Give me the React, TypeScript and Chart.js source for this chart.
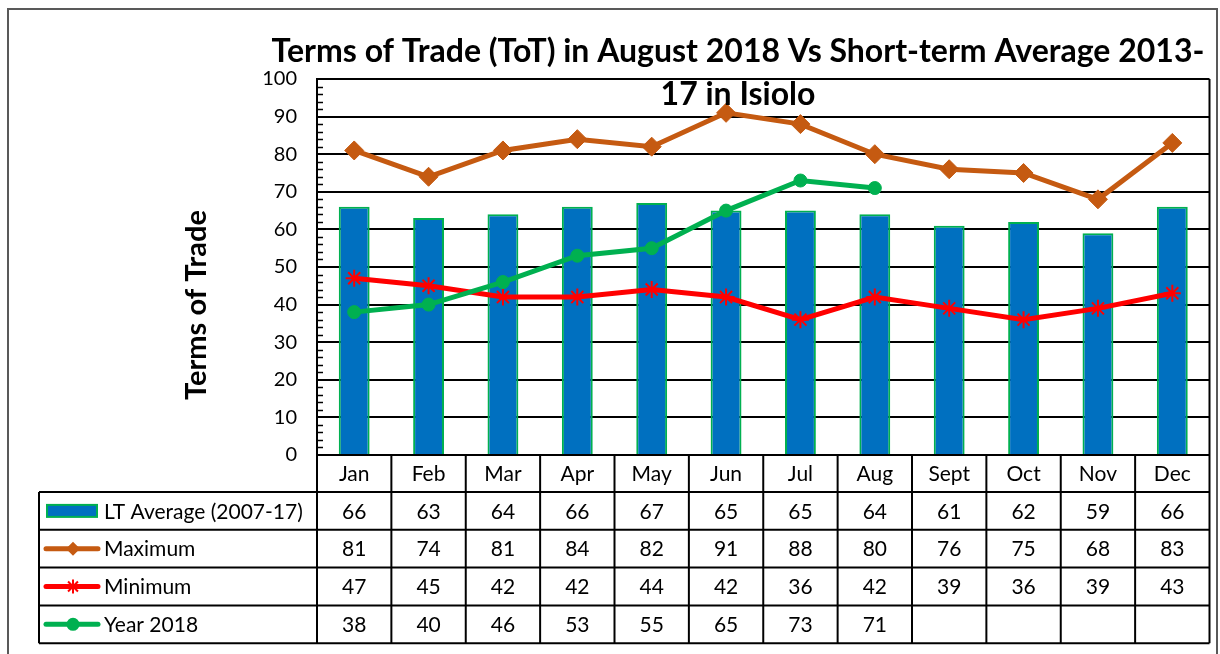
import React, { useEffect, useRef } from 'react';
import { Chart, registerables } from 'chart.js';

Chart.register(...registerables);

const months = ['Jan', 'Feb', 'Mar', 'Apr', 'May', 'Jun', 'Jul', 'Aug', 'Sept', 'Oct', 'Nov', 'Dec'];
const ltAverage = [66, 63, 64, 66, 67, 65, 65, 64, 61, 62, 59, 66];
const maximum = [81, 74, 81, 84, 82, 91, 88, 80, 76, 75, 68, 83];
const minimum = [47, 45, 42, 42, 44, 42, 36, 42, 39, 36, 39, 43];
const year2018: (number | null)[] = [38, 40, 46, 53, 55, 65, 73, 71, null, null, null, null];
const seriesNames = ['LT Average (2007-17)', 'Maximum', 'Minimum', 'Year 2018'];
const titleLines = ['Terms of Trade (ToT) in August 2018 Vs Short-term Average 2013-', '17 in Isiolo'];
const yAxisTitle = 'Terms of Trade';

const FONT = 'Lato, "Open Sans", "DejaVu Sans", sans-serif';
const BLUE = '#0070C0';
const GREEN = '#00B050';
const ORANGE = '#C55A11';
const RED = '#FF0000';

const decorPlugin = {
  id: 'decor',
  afterDraw(chart: any) {
    const { ctx, chartArea: a, scales } = chart;
    const x = scales.x;
    const y = scales.y;
    ctx.save();

    // outer frame
    ctx.strokeStyle = '#595959';
    ctx.lineWidth = 2;
    ctx.strokeRect(8, 9, 1209, 720);

    // plot right border
    ctx.strokeStyle = '#000';
    ctx.lineWidth = 2;
    ctx.beginPath();
    ctx.moveTo(a.right, a.top);
    ctx.lineTo(a.right, a.bottom);
    ctx.stroke();

    // minor ticks
    ctx.lineWidth = 1.5;
    for (let v = 2; v < 100; v += 2) {
      if (v % 10 === 0) continue;
      const py = Math.round(y.getPixelForValue(v)) + 0.5;
      ctx.beginPath();
      ctx.moveTo(a.left, py);
      ctx.lineTo(a.left + 6, py);
      ctx.stroke();
    }

    // title
    ctx.fillStyle = '#000';
    ctx.font = `bold 32px ${FONT}`;
    ctx.textAlign = 'center';
    ctx.textBaseline = 'middle';
    ctx.fillText(titleLines[0], 738, 52, 935);
    ctx.fillText(titleLines[1], 738, 95);

    // y axis title
    ctx.save();
    ctx.translate(197, 305);
    ctx.rotate(-Math.PI / 2);
    ctx.font = `bold 29px ${FONT}`;
    ctx.fillText(yAxisTitle, 0, 0);
    ctx.restore();

    // data table
    const colW = x.getPixelForValue(1) - x.getPixelForValue(0);
    const tableLeft = 39;
    const headerTop = a.bottom;
    const headerBottom = a.bottom + 37;
    const rowH = 37.8;
    const tableBottom = headerBottom + rowH * 4;

    ctx.strokeStyle = '#000';
    ctx.lineWidth = 2;
    for (let i = 0; i <= months.length; i++) {
      const cx = i < months.length ? x.getPixelForValue(i) - colW / 2 : a.right;
      ctx.beginPath();
      ctx.moveTo(cx, headerTop);
      ctx.lineTo(cx, tableBottom);
      ctx.stroke();
    }
    ctx.beginPath();
    ctx.moveTo(tableLeft, headerBottom);
    ctx.lineTo(tableLeft, tableBottom);
    ctx.stroke();
    for (let r = 0; r <= 4; r++) {
      const ry = headerBottom + r * rowH;
      ctx.beginPath();
      ctx.moveTo(tableLeft, ry);
      ctx.lineTo(a.right, ry);
      ctx.stroke();
    }

    ctx.font = `21px ${FONT}`;
    ctx.textAlign = 'center';
    ctx.textBaseline = 'middle';
    months.forEach((m, i) => {
      ctx.fillText(m, x.getPixelForValue(i), (headerTop + headerBottom) / 2 + 1);
    });

    const rows = [ltAverage, maximum, minimum, year2018];
    rows.forEach((vals, r) => {
      const cy = headerBottom + r * rowH + rowH / 2 + 1;
      vals.forEach((v, i) => {
        if (v === null || v === undefined) return;
        ctx.fillText(String(v), x.getPixelForValue(i), cy);
      });
    });

    ctx.textAlign = 'left';
    rows.forEach((_, r) => {
      const cy = headerBottom + r * rowH + rowH / 2;
      if (r === 0) {
        ctx.fillStyle = BLUE;
        ctx.fillRect(47, cy - 6, 50, 12);
        ctx.strokeStyle = GREEN;
        ctx.lineWidth = 2;
        ctx.strokeRect(47, cy - 6, 50, 12);
      } else {
        const col = r === 1 ? ORANGE : r === 2 ? RED : GREEN;
        ctx.strokeStyle = col;
        ctx.lineWidth = 5;
        ctx.lineCap = 'round';
        ctx.beginPath();
        ctx.moveTo(46, cy);
        ctx.lineTo(98, cy);
        ctx.stroke();
        ctx.lineCap = 'butt';
        ctx.fillStyle = col;
        const mx = 73;
        if (r === 1) {
          ctx.beginPath();
          ctx.moveTo(mx, cy - 7);
          ctx.lineTo(mx + 7, cy);
          ctx.lineTo(mx, cy + 7);
          ctx.lineTo(mx - 7, cy);
          ctx.closePath();
          ctx.fill();
        } else if (r === 2) {
          ctx.lineWidth = 2;
          const s = 7;
          ctx.beginPath();
          ctx.moveTo(mx - s, cy); ctx.lineTo(mx + s, cy);
          ctx.moveTo(mx, cy - s); ctx.lineTo(mx, cy + s);
          const d = s * 0.7071;
          ctx.moveTo(mx - d, cy - d); ctx.lineTo(mx + d, cy + d);
          ctx.moveTo(mx - d, cy + d); ctx.lineTo(mx + d, cy - d);
          ctx.stroke();
        } else {
          ctx.beginPath();
          ctx.arc(mx, cy, 6.5, 0, Math.PI * 2);
          ctx.fill();
        }
      }
      ctx.fillStyle = '#000';
      ctx.font = `21px ${FONT}`;
      ctx.fillText(seriesNames[r], 104, cy + 1, 208);
    });

    ctx.restore();
  },
};

export default function App() {
  const ref = useRef<HTMLCanvasElement | null>(null);

  useEffect(() => {
    if (!ref.current) return;
    const chart = new Chart(ref.current, {
      type: 'bar',
      data: {
        labels: months,
        datasets: [
          {
            type: 'line',
            label: seriesNames[3],
            data: year2018,
            borderColor: GREEN,
            backgroundColor: GREEN,
            borderWidth: 5,
            pointStyle: 'circle',
            pointRadius: 6.5,
            pointBorderWidth: 1,
            pointBackgroundColor: GREEN,
            pointBorderColor: GREEN,
            order: 1,
          } as any,
          {
            type: 'line',
            label: seriesNames[2],
            data: minimum,
            borderColor: RED,
            backgroundColor: RED,
            borderWidth: 5,
            pointStyle: 'star',
            pointRadius: 8.5,
            pointBorderWidth: 2,
            pointBorderColor: RED,
            order: 2,
          } as any,
          {
            type: 'line',
            label: seriesNames[1],
            data: maximum,
            borderColor: ORANGE,
            backgroundColor: ORANGE,
            borderWidth: 5,
            pointStyle: 'rectRot',
            pointRadius: 9.5,
            pointBorderWidth: 1,
            pointBackgroundColor: ORANGE,
            pointBorderColor: ORANGE,
            order: 3,
          } as any,
          {
            type: 'bar',
            label: seriesNames[0],
            data: ltAverage,
            backgroundColor: BLUE,
            borderColor: GREEN,
            borderWidth: 2,
            barPercentage: 0.415,
            categoryPercentage: 1,
            order: 10,
          } as any,
        ],
      },
      options: {
        responsive: false,
        animation: false,
        layout: { padding: { top: 79, right: 6, bottom: 199, left: 0 } },
        plugins: {
          legend: { display: false },
          tooltip: { enabled: false },
          title: { display: false },
        },
        scales: {
          x: { display: false, offset: true },
          y: {
            min: 0,
            max: 100,
            ticks: { stepSize: 10, color: '#000', font: { family: FONT, size: 20 }, padding: 20 },
            grid: { color: '#000', lineWidth: 2, drawTicks: false },
            border: { color: '#000', width: 2 },
            afterFit: (s: any) => {
              s.width = 317;
            },
          },
        },
      } as any,
      plugins: [decorPlugin],
    });
    const fonts = (document as any).fonts;
    if (fonts && fonts.ready) fonts.ready.then(() => chart.draw());
    return () => chart.destroy();
  }, []);

  return (
    <div style={{ position: 'absolute', left: 0, top: 0, width: 1220, height: 654, background: '#fff' }}>
      <canvas ref={ref} width={1220} height={654} style={{ display: 'block' }} />
    </div>
  );
}
